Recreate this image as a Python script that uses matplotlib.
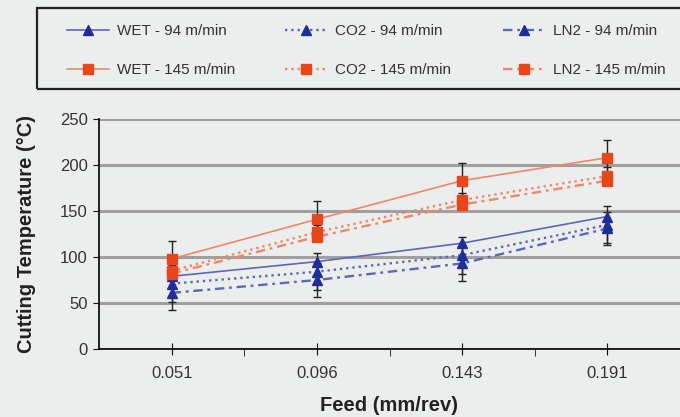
import matplotlib
matplotlib.use("Agg")
import matplotlib.pyplot as plt
from matplotlib.patches import Rectangle
import numpy as np

feeds = ["0.051", "0.096", "0.143", "0.191"]
wet_94 = [79, 95, 115, 144]
co2_94 = [71, 84, 102, 135]
ln2_94 = [61, 75, 93, 131]
wet_145 = [98, 141, 183, 208]
co2_145 = [85, 127, 162, 188]
ln2_145 = [82, 122, 157, 183]
err_co2_94 = [20, 20, 20, 20]
err_ln2_94 = [19, 19, 19, 18]
err_wet_145 = [19, 20, 19, 19]
err_co2_145 = [8, 8, 8, 10]

plt.rcParams['font.family'] = ['Liberation Sans', 'DejaVu Sans']
bg = '#ECEEED'
W, H = 680, 417
fig = plt.figure(figsize=(6.8, 4.17), dpi=100, facecolor=bg)
ax = fig.add_axes([99 / W, 1 - 349 / H, (680 - 99) / W, 230 / H], facecolor=bg)

x = np.arange(len(feeds)) + 0.5
blue_line = '#5A68BC'
blue_mk = '#1E2E96'
red_line = '#F2866A'
red_mk = '#E8471C'

dashdot = (0, (4, 2, 1.2, 2))
series = [
    ("WET - 94 m/min", wet_94, '-', '^', blue_line, blue_mk, None),
    ("WET - 145 m/min", wet_145, '-', 's', red_line, red_mk, err_wet_145),
    ("CO2 - 94 m/min", co2_94, ':', '^', blue_line, blue_mk, err_co2_94),
    ("CO2 - 145 m/min", co2_145, ':', 's', red_line, red_mk, err_co2_145),
    ("LN2 - 94 m/min", ln2_94, dashdot, '^', blue_line, blue_mk, err_ln2_94),
    ("LN2 - 145 m/min", ln2_145, dashdot, 's', red_line, red_mk, None),
]

handles = []
for label, vals, ls, mk, lc, mc, err in series:
    if err is not None:
        ax.errorbar(x, vals, yerr=err, fmt='none', ecolor='#222222',
                    elinewidth=1.0, capsize=3, capthick=1.0, zorder=3)
    lw = 1.2 if ls == '-' else 1.7
    h, = ax.plot(x, vals, linestyle=ls, color=lc, linewidth=lw, marker=mk,
                 markersize=7.5, markerfacecolor=mc, markeredgecolor=mc,
                 label=label, zorder=4)
    handles.append(h)

ax.set_xlim(0, 4)
ax.set_ylim(0, 250)
ax.set_yticks(np.arange(0, 251, 50))
ax.set_xticks(x)
ax.set_xticklabels(feeds)
ax.set_xticks([1, 2, 3], minor=True)
ax.yaxis.grid(True, color='#A0A0A0', linewidth=2.2)
ax.set_axisbelow(True)
for s in ['top', 'right']:
    ax.spines[s].set_visible(False)
for s in ['left', 'bottom']:
    ax.spines[s].set_color('#111111')
    ax.spines[s].set_linewidth(1.3)
ax.tick_params(axis='y', direction='out', length=4, labelsize=12, colors='#111111', labelcolor='#333333', pad=4)
ax.tick_params(axis='x', which='major', direction='inout', length=8, labelsize=12, colors='#111111', labelcolor='#333333', pad=8)
ax.tick_params(axis='x', which='minor', direction='out', length=5, colors='#111111')
ax.set_ylabel("Cutting Temperature (°C)", fontsize=14.5, fontweight='bold', color='#222222', labelpad=17)
ax.set_xlabel("Feed (mm/rev)", fontsize=14.5, fontweight='bold', color='#222222', labelpad=11)

# legend frame
fig.patches.append(Rectangle((37 / W, 1 - 89 / H), (720 - 37) / W, 81 / H,
                             transform=fig.transFigure, fill=False,
                             edgecolor='#222222', linewidth=1.6))
col_x = [67, 285, 503]
for i, cx in enumerate(col_x):
    fig.legend(handles=handles[2 * i:2 * i + 2], loc='upper left',
               bbox_to_anchor=(cx / W, 1 - 24 / H), frameon=False,
               fontsize=11, handlelength=2.75, handletextpad=0.5,
               borderaxespad=0, borderpad=0, labelspacing=1.65,
               labelcolor='#333333')

fig.savefig("out.png", dpi=100, facecolor=bg)
